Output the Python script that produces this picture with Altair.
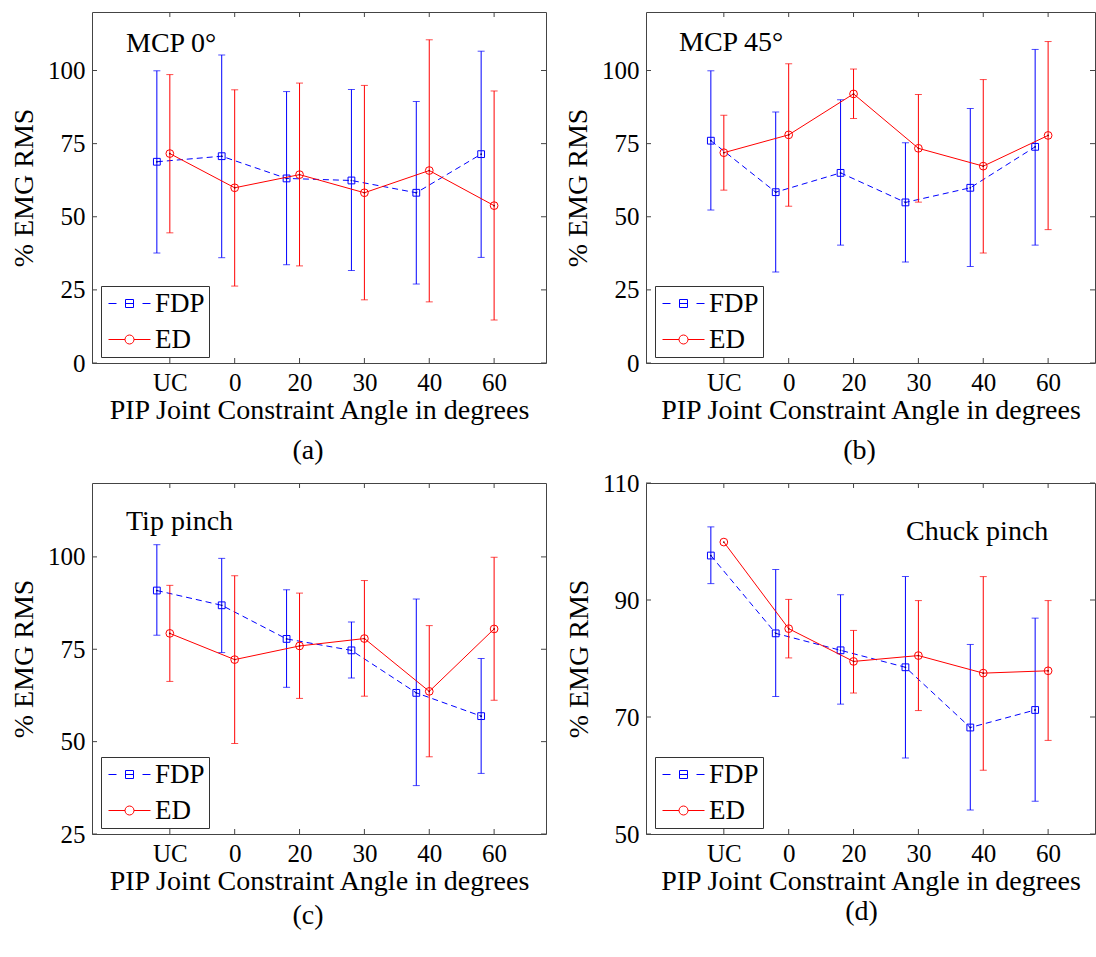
import altair as alt
import pandas as pd

# ---------------- data ----------------
categories = ["UC", "0", "20", "30", "40", "60"]
series_names = ["FDP", "ED"]

a_fdp_mean = [68.8, 70.7, 63.1, 62.4, 58.2, 71.4]
a_fdp_hi = [99.9, 105.3, 92.8, 93.5, 89.4, 106.6]
a_fdp_lo = [37.6, 36.0, 33.6, 31.6, 27.0, 36.1]
a_ed_mean = [71.6, 59.9, 64.4, 58.2, 65.8, 53.8]
a_ed_hi = [98.6, 93.4, 95.7, 94.9, 110.5, 93.0]
a_ed_lo = [44.5, 26.3, 33.2, 21.6, 20.9, 14.7]

b_fdp_mean = [76.0, 58.4, 65.0, 54.9, 59.9, 73.9]
b_fdp_hi = [99.9, 85.8, 90.0, 75.3, 87.0, 107.2]
b_fdp_lo = [52.3, 31.1, 40.3, 34.5, 33.0, 40.3]
b_ed_mean = [71.9, 78.0, 92.0, 73.4, 67.3, 77.8]
b_ed_hi = [84.7, 102.3, 100.5, 91.8, 96.9, 109.9]
b_ed_lo = [59.1, 53.6, 83.6, 55.0, 37.6, 45.6]

c_fdp_mean = [90.9, 86.9, 77.8, 74.7, 63.2, 56.9]
c_fdp_hi = [103.3, 99.6, 91.1, 82.4, 88.6, 72.5]
c_fdp_lo = [78.8, 74.1, 64.7, 67.2, 38.1, 41.4]
c_ed_mean = [79.3, 72.2, 75.9, 77.9, 63.6, 80.5]
c_ed_hi = [92.3, 94.9, 90.2, 93.6, 81.4, 99.9]
c_ed_lo = [66.3, 49.5, 61.7, 62.3, 45.9, 61.2]

d_fdp_mean = [97.6, 84.3, 81.4, 78.5, 68.2, 71.2]
d_fdp_hi = [102.5, 95.2, 90.9, 94.0, 82.4, 86.9]
d_fdp_lo = [92.8, 73.5, 72.2, 63.0, 54.1, 55.6]
d_ed_mean = [99.9, 85.1, 79.5, 80.5, 77.5, 77.9]
d_ed_hi = [None, 90.1, 84.8, 89.9, 94.0, 89.9]
d_ed_lo = [None, 80.1, 74.1, 71.1, 60.9, 66.0]

panel_labels = ["MCP 0°", "MCP 45°", "Tip pinch", "Chuck pinch"]
captions = ["(a)", "(b)", "(c)", "(d)"]
y_domains = [[0, 120], [0, 120], [25, 120], [50, 110]]
y_tick_values = [[0, 25, 50, 75, 100], [0, 25, 50, 75, 100], [25, 50, 75, 100], [50, 70, 90, 110]]
x_tick_values = [1, 2, 3, 4, 5, 6]
x_title = "PIP Joint Constraint Angle in degrees"
y_title = "% EMG RMS"

# ---------------- style ----------------
FONT = "Liberation Serif"
BLUE = "#0000ff"
RED = "#ff0000"
AXIS_COL = "#444444"
H = 351
UNIT = 454 / 7.0
FDP_SHIFT = -0.2

FDP_PATH = "M-1,0H-0.2M2.4,0H3.2M0.7,-0.4H1.5V0.4H0.7ZM0.7,0H1.5"
ED_PATH = "M-1,0H0.65M1.55,0H3.2M0.65,0A0.45,0.45,0,1,0,1.55,0A0.45,0.45,0,1,0,0.65,0"

label_expr = " : ".join(
    [f"datum.value == {i + 1} ? '{c}'" for i, c in enumerate(categories)]
) + " : ''"


def make_df(name, mean, hi, lo):
    shift = FDP_SHIFT if name == "FDP" else 0.0
    return pd.DataFrame({
        "series": [name] * len(categories),
        "cat": categories,
        "pos": [i + 1 + shift for i in range(len(categories))],
        "mean": mean,
        "hi": hi,
        "lo": lo,
    })


def panel(idx, fdp, ed, width, label_xy, cap_offset, cap_dx):
    xmax = -0.2 + width / UNIT
    xs = alt.Scale(domain=[-0.2, xmax], nice=False, zero=False)
    ys = alt.Scale(domain=y_domains[idx], nice=False, zero=False)
    xaxis = alt.Axis(values=x_tick_values, labelExpr=label_expr, title=x_title,
                     labelPadding=7, titlePadding=1, labelAngle=0)
    yaxis = alt.Axis(values=y_tick_values[idx], format="d", title=y_title,
                     labelPadding=7, titlePadding=9)

    def X(f):
        return alt.X(f, scale=xs, axis=xaxis)

    def Y(f):
        return alt.Y(f, scale=ys, axis=yaxis)

    layers = []
    df_f = make_df("FDP", *fdp)
    df_e = make_df("ED", *ed)
    both = pd.concat([df_f, df_e], ignore_index=True)

    for name, df, col, dark in [("FDP", df_f, BLUE, "#000080"), ("ED", df_e, RED, "#800000")]:
        err = df.dropna(subset=["hi", "lo"])
        base_err = alt.Chart(err)
        layers.append(base_err.mark_rule(color=col, strokeWidth=1).encode(
            x=X("pos:Q"), y=Y("lo:Q"), y2="hi:Q"))
        layers.append(base_err.mark_tick(color=col, orient="horizontal", size=7, thickness=1).encode(
            x=X("pos:Q"), y=Y("hi:Q")))
        layers.append(base_err.mark_tick(color=col, orient="horizontal", size=7, thickness=1).encode(
            x=X("pos:Q"), y=Y("lo:Q")))
        line_kw = dict(color=col, strokeWidth=1)
        if name == "FDP":
            line_kw["strokeDash"] = [6, 4]
        layers.append(alt.Chart(df).mark_line(**line_kw).encode(x=X("pos:Q"), y=Y("mean:Q")))
        if name == "FDP":
            pt = alt.Chart(df).mark_point(shape="square", size=46, filled=False, color=col,
                                          strokeWidth=1, opacity=1)
        else:
            pt = alt.Chart(df).mark_point(shape="circle", size=60, filled=False, color=col,
                                          strokeWidth=1, opacity=1)
        layers.append(pt.encode(x=X("pos:Q"), y=Y("mean:Q")))
        layers.append(alt.Chart(df).mark_point(shape="circle", size=3, filled=True, color=dark,
                                               opacity=1).encode(x=X("pos:Q"), y=Y("mean:Q")))

    # legend layer
    leg = alt.Legend(title=None, orient="none", legendX=9, legendY=274,
                     fillColor="white", strokeColor="#333333", padding=4, rowPadding=8,
                     labelFont=FONT, labelFontSize=27, labelColor="black", labelOffset=23,
                     symbolSize=400, symbolStrokeWidth=1, symbolOpacity=1, labelLimit=300)
    layers.append(alt.Chart(both).mark_point(opacity=0, filled=False).encode(
        x=X("pos:Q"),
        y=Y("mean:Q"),
        color=alt.Color("series:N", scale=alt.Scale(domain=series_names, range=[BLUE, RED]), legend=leg),
        shape=alt.Shape("series:N", scale=alt.Scale(domain=series_names, range=[FDP_PATH, ED_PATH]), legend=leg),
    ))

    # inward ticks on all four sides
    ytdf = pd.DataFrame({"v": y_tick_values[idx]})
    xtdf = pd.DataFrame({"v": x_tick_values})
    layers.append(alt.Chart(ytdf).mark_rule(color=AXIS_COL, strokeWidth=1).encode(
        y=Y("v:Q"), x=alt.value(0), x2=alt.value(5)))
    layers.append(alt.Chart(ytdf).mark_rule(color=AXIS_COL, strokeWidth=1).encode(
        y=Y("v:Q"), x=alt.value(width - 5), x2=alt.value(width)))
    layers.append(alt.Chart(xtdf).mark_rule(color=AXIS_COL, strokeWidth=1).encode(
        x=X("v:Q"), y=alt.value(H - 5), y2=alt.value(H)))
    layers.append(alt.Chart(xtdf).mark_rule(color=AXIS_COL, strokeWidth=1).encode(
        x=X("v:Q"), y=alt.value(0), y2=alt.value(5)))

    # panel label
    layers.append(alt.Chart(pd.DataFrame({"t": [panel_labels[idx]]})).mark_text(
        align="left", baseline="alphabetic", font=FONT, fontSize=28, color="black").encode(
        x=alt.value(label_xy[0]), y=alt.value(label_xy[1]), text="t:N"))

    return alt.layer(*layers).properties(
        width=width, height=H,
        title=alt.TitleParams(captions[idx], orient="bottom", font=FONT, fontSize=28,
                              fontWeight="normal", color="black", offset=cap_offset, dx=cap_dx),
    )


pa = panel(0, (a_fdp_mean, a_fdp_hi, a_fdp_lo), (a_ed_mean, a_ed_hi, a_ed_lo), 454, (34, 40), 13, -11)
pb = panel(1, (b_fdp_mean, b_fdp_hi, b_fdp_lo), (b_ed_mean, b_ed_hi, b_ed_lo), 449, (33, 39), 13, -11)
pc = panel(2, (c_fdp_mean, c_fdp_hi, c_fdp_lo), (c_ed_mean, c_ed_hi, c_ed_lo), 454, (34, 47), 7, -11)
pd_ = panel(3, (d_fdp_mean, d_fdp_hi, d_fdp_lo), (d_ed_mean, d_ed_hi, d_ed_lo), 449, (260, 57), 3, -9)

chart = alt.concat(pa, pb, pc, pd_, columns=2, spacing={"row": 120, "column": 100}, bounds="flush") \
    .resolve_scale(x="independent", y="independent", color="independent", shape="independent") \
    .resolve_legend(color="independent", shape="independent") \
    .properties(padding={"left": 10, "top": 11, "right": 0, "bottom": 0}, background="white") \
    .configure_view(stroke=AXIS_COL, strokeWidth=1) \
    .configure_axis(labelFont=FONT, titleFont=FONT, labelFontSize=25, titleFontSize=28,
                    titleFontWeight="normal", labelColor="black", titleColor="black",
                    grid=False, domain=False, ticks=False)

chart.save("out.html", embed_options={"renderer": "svg", "actions": False})
